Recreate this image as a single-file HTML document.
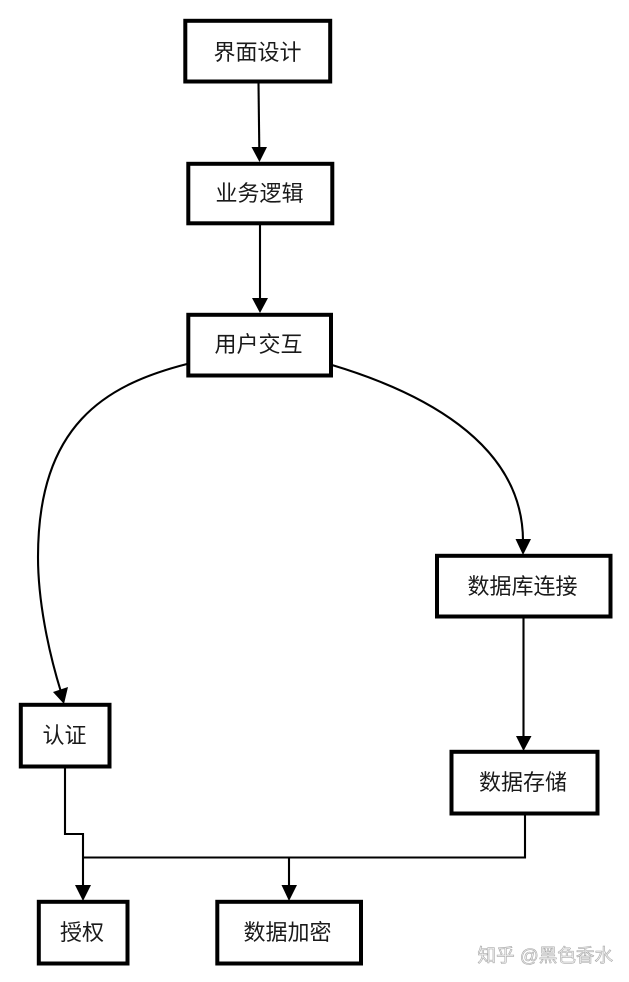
<!DOCTYPE html>
<html>
<head>
<meta charset="utf-8">
<style>
html,body{margin:0;padding:0;background:#fff;}
body{width:629px;height:982px;overflow:hidden;}
svg{display:block;}
text{font-family:"Liberation Sans","Noto Sans CJK SC",sans-serif;font-size:22px;fill:#1a1a1a;text-anchor:middle;}
.b{fill:#fff;stroke:#000;stroke-width:4;}
.l{fill:none;stroke:#000;stroke-width:2.1;}
.a{fill:#000;stroke:none;}
.w{font-size:18.600px;fill:#f4f4f4;stroke:#a8a8a8;stroke-width:.6;text-anchor:start;}
</style>
</head>
<body>
<svg width="629" height="982" viewBox="0 0 629 982" xmlns="http://www.w3.org/2000/svg">
<!-- connectors -->
<path class="l" d="M258.500,83 L259.300,149"/>
<polygon class="a" points="251.500,147 267,147 259.500,162"/>
<path class="l" d="M260,224 L260,300"/>
<polygon class="a" points="252,298 268,298 260,313"/>
<path class="l" d="M187,364 C105,385 38,425 38,557 C38,600 48,650 61,692"/>
<polygon class="a" points="53,692 68,687 64,704"/>
<path class="l" d="M332,365 C415,390 523,440 523,541"/>
<polygon class="a" points="515.500,539 531,539 523,555"/>
<path class="l" d="M523.500,618 L523.500,738"/>
<polygon class="a" points="516,736 531.500,736 523.500,751"/>
<path class="l" d="M65,768 L65,834 L83,834 L83,887"/>
<polygon class="a" points="75,885 91,885 83,901"/>
<path class="l" d="M83,857.500 L525,857.500 L525,815"/>
<path class="l" d="M289,857 L289,887"/>
<polygon class="a" points="281.500,885 297,885 289,901"/>
<!-- boxes -->
<rect class="b" x="185.300" y="20.800" width="144.900" height="60.700"/>
<rect class="b" x="188.300" y="163.800" width="144" height="59.500"/>
<rect class="b" x="188.300" y="314.800" width="142.700" height="60.700"/>
<rect class="b" x="437" y="555.800" width="173.500" height="60.700"/>
<rect class="b" x="20.800" y="704.800" width="88.700" height="61.700"/>
<rect class="b" x="451.500" y="751.800" width="146" height="61.700"/>
<rect class="b" x="38.800" y="901.800" width="88.700" height="61.700"/>
<rect class="b" x="217.300" y="901.800" width="143.700" height="61.700"/>
<!-- labels -->
<text x="257.500" y="60">界面设计</text>
<text x="259.500" y="201">业务逻辑</text>
<text x="258.500" y="352">用户交互</text>
<text x="522.500" y="594">数据库连接</text>
<text x="64.500" y="743">认证</text>
<text x="523" y="790">数据存储</text>
<text x="82" y="940">授权</text>
<text x="287.500" y="940">数据加密</text>
<text class="w" x="477.500" y="962">知乎 @黑色香水</text>
</svg>
</body>
</html>
